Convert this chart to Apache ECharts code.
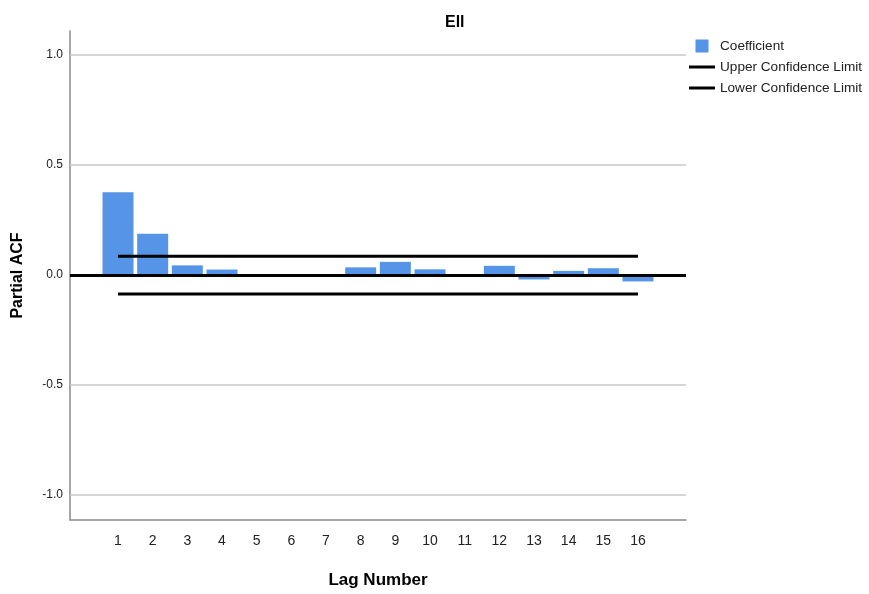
<!DOCTYPE html>
<html>
<head>
<meta charset="utf-8">
<title>Ell - Partial ACF</title>
<script src="https://cdn.jsdelivr.net/npm/echarts@6/dist/echarts.min.js"></script>
<style>
  html, body { margin: 0; padding: 0; background: #fff; }
  #chart { width: 869px; height: 594px; }
</style>
</head>
<body>
<div id="chart"></div>
<script>
// Partial autocorrelation of the Ell series, lags 1-16
const lags = [1, 2, 3, 4, 5, 6, 7, 8, 9, 10, 11, 12, 13, 14, 15, 16];
const coefficient = [0.376, 0.188, 0.044, 0.025, 0.0, 0.0, 0.0, 0.035, 0.060, 0.026, 0.002, 0.042, -0.020, 0.019, 0.031, -0.029];
const upperLimit = [0.086, 0.086, 0.086, 0.086, 0.086, 0.086, 0.086, 0.086, 0.086, 0.086, 0.086, 0.086, 0.086, 0.086, 0.086, 0.086];
const lowerLimit = [-0.086, -0.086, -0.086, -0.086, -0.086, -0.086, -0.086, -0.086, -0.086, -0.086, -0.086, -0.086, -0.086, -0.086, -0.086, -0.086];
const yTicks = [-1.0, -0.5, 0.0, 0.5, 1.0];

const FONT = '"Liberation Sans", Arial, sans-serif';
const pairs = (vals) => lags.map((l, i) => [l, vals[i]]);

const chart = echarts.init(document.getElementById('chart'), null, { renderer: 'canvas' });

chart.setOption({
  animation: false,
  backgroundColor: '#ffffff',
  title: {
    text: 'Ell',
    left: 440,
    top: 10,
    textStyle: { fontFamily: FONT, fontSize: 16, fontWeight: 'bold', color: '#000' }
  },
  legend: {
    orient: 'vertical',
    left: 684,
    top: 34,
    itemWidth: 26,
    itemHeight: 13,
    itemGap: 7,
    textStyle: { fontFamily: FONT, fontSize: 13.6, color: '#222' },
    data: [
      { name: 'Coefficient', icon: 'path://M0,0h10v10h-10z' },
      { name: 'Upper Confidence Limit', icon: 'path://M0,0h26v3h-26z' },
      { name: 'Lower Confidence Limit', icon: 'path://M0,0h26v3h-26z' }
    ]
  },
  grid: { left: 70, right: 183, top: 31, bottom: 65, containLabel: false },
  xAxis: {
    type: 'value',
    min: -0.385,
    max: 17.385,
    name: 'Lag Number',
    nameLocation: 'middle',
    nameGap: 52,
    nameTextStyle: { fontFamily: FONT, fontSize: 17, fontWeight: 'bold', color: '#000' },
    axisLine: { onZero: false, lineStyle: { color: '#8a8a8a', width: 1.5 } },
    axisTick: { show: false },
    splitLine: { show: false },
    axisLabel: {
      customValues: lags,
      margin: 14,
      fontFamily: FONT,
      fontSize: 14,
      color: '#222'
    }
  },
  yAxis: {
    type: 'value',
    min: -1.113,
    max: 1.109,
    name: 'Partial ACF',
    nameLocation: 'middle',
    nameRotate: 90,
    nameGap: 44,
    nameTextStyle: { fontFamily: FONT, fontSize: 16, fontWeight: 'bold', color: '#000' },
    axisLine: { show: true, onZero: false, lineStyle: { color: '#8a8a8a', width: 1.5 } },
    axisTick: { show: false },
    splitLine: { show: false },
    axisLabel: {
      customValues: yTicks,
      margin: 7,
      fontFamily: FONT,
      fontSize: 12,
      color: '#222',
      formatter: (v) => v.toFixed(1)
    }
  },
  series: [
    {
      name: 'Coefficient',
      type: 'bar',
      barWidth: 31,
      itemStyle: { color: '#5594e6' },
      data: pairs(coefficient),
      z: 2,
      markLine: {
        silent: true,
        symbol: 'none',
        label: { show: false },
        data: yTicks.filter(v => v !== 0).map(v => ({
          yAxis: v,
          lineStyle: { color: '#c8c8c8', width: 1.5, type: 'solid' }
        })).concat([
          { yAxis: 0, lineStyle: { color: '#000', width: 3, type: 'solid' } }
        ])
      }
    },
    {
      name: 'Upper Confidence Limit',
      type: 'line',
      data: pairs(upperLimit),
      showSymbol: false,
      symbol: 'none',
      lineStyle: { color: '#000', width: 3 },
      itemStyle: { color: '#000' },
      z: 3
    },
    {
      name: 'Lower Confidence Limit',
      type: 'line',
      data: pairs(lowerLimit),
      showSymbol: false,
      symbol: 'none',
      lineStyle: { color: '#000', width: 3 },
      itemStyle: { color: '#000' },
      z: 3
    }
  ]
});
</script>
</body>
</html>
